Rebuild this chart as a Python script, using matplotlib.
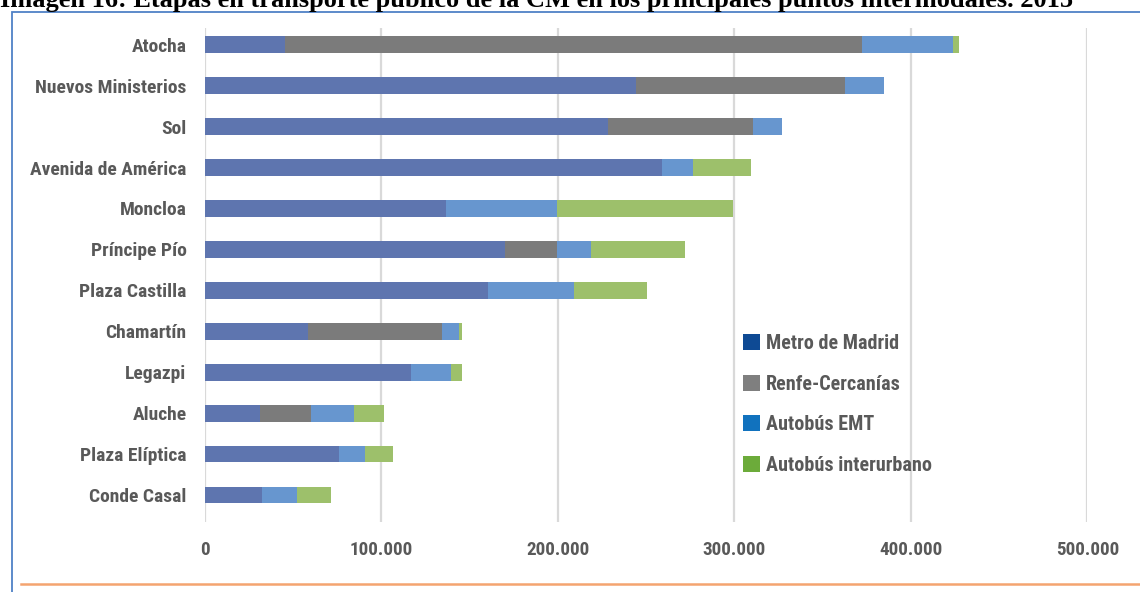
import matplotlib
matplotlib.use("Agg")
import matplotlib.pyplot as plt
from matplotlib.patches import Patch, Rectangle
from matplotlib.lines import Line2D
from matplotlib.ticker import FuncFormatter

plt.rcParams['font.family'] = ['Roboto Condensed', 'Roboto', 'DejaVu Sans']

# data
categories = ["Atocha", "Nuevos Ministerios", "Sol", "Avenida de América", "Moncloa",
              "Príncipe Pío", "Plaza Castilla", "Chamartín", "Legazpi", "Aluche",
              "Plaza Elíptica", "Conde Casal"]
metro = [45600, 244500, 228600, 259400, 136600, 170300, 160400, 58800, 116800, 31300, 76200, 32600]
renfe = [326900, 118500, 82200, 0, 0, 29200, 0, 75900, 0, 28900, 0, 0]
emt = [51500, 22000, 16200, 17400, 62900, 19300, 48800, 9700, 22900, 24300, 14700, 19800]
inter = [3500, 0, 0, 32600, 100000, 53400, 41700, 1600, 6300, 17400, 16100, 19300]
series_names = ["Metro de Madrid", "Renfe-Cercanías", "Autobús EMT", "Autobús interurbano"]
xticks = [0, 100000, 200000, 300000, 400000, 500000]

bar_colors = ["#5E75AF", "#7B7B7B", "#6796CF", "#9DC06B"]
legend_colors = ["#0E4A94", "#7F7F7F", "#1172BE", "#6CAB3A"]
text_color = "#595959"

W, H = 1140, 592
fig = plt.figure(figsize=(W / 100, H / 100), dpi=100)
ax = fig.add_axes([204.5 / W, 1 - 522 / H, (1087.3 - 204.5) / W, (522 - 28) / H])

ypos = list(range(len(categories)))
left = [0] * len(categories)
for vals, col in zip([metro, renfe, emt, inter], bar_colors):
    ax.barh(ypos, vals, left=left, height=0.41, color=col, linewidth=0, zorder=3)
    left = [a + b for a, b in zip(left, vals)]

ax.set_xlim(0, 500000)
ax.set_ylim(11.66, -0.41)
ax.set_xticks(xticks)
ax.xaxis.set_major_formatter(FuncFormatter(lambda v, p: f"{int(v):,}".replace(",", ".")))
ax.set_yticks(ypos)
ax.set_yticklabels(categories)
ax.grid(axis='x', color='#D9D9D9', linewidth=1.6, zorder=0)
ax.grid(axis='y', visible=False)
for s in ax.spines.values():
    s.set_visible(False)
ax.tick_params(axis='both', length=0, colors=text_color)
ax.tick_params(axis='y', pad=13)
ax.tick_params(axis='x', pad=14)
for lab in ax.get_yticklabels():
    lab.set_fontsize(14)
    lab.set_fontweight('bold')
for lab in ax.get_xticklabels():
    lab.set_fontsize(13.7)
    lab.set_fontweight('bold')

handles = [Patch(facecolor=c, edgecolor='none') for c in legend_colors]
leg = fig.legend(handles, series_names, loc='upper left',
                 bbox_to_anchor=(743 / W, 1 - 334 / H), bbox_transform=fig.transFigure,
                 frameon=False, borderpad=0, borderaxespad=0,
                 handlelength=0.85, handleheight=0.85,
                 handletextpad=0.3, labelspacing=1.07,
                 prop={'size': 14.5, 'weight': 'bold'})
for t in leg.get_texts():
    t.set_color(text_color)

# frame and decorations
fig.add_artist(Rectangle((12 / W, -0.1), 1.2, 1 - 12 / H + 0.1, transform=fig.transFigure,
                         fill=False, edgecolor='#4F81C6', linewidth=1.3))
fig.add_artist(Line2D([21 / W, 1.0], [1 - 584 / H] * 2, transform=fig.transFigure,
                      color='#F4A470', linewidth=1.8))
fig.text(0.0, 1 - 7 / H,
         "Imagen 16: Etapas en transporte público de la CM en los principales puntos intermodales. 2015",
         family=['Liberation Serif', 'DejaVu Serif'], fontweight='bold', fontsize=19,
         va='baseline', ha='left', color='black')

fig.savefig("out.png", dpi=100)
